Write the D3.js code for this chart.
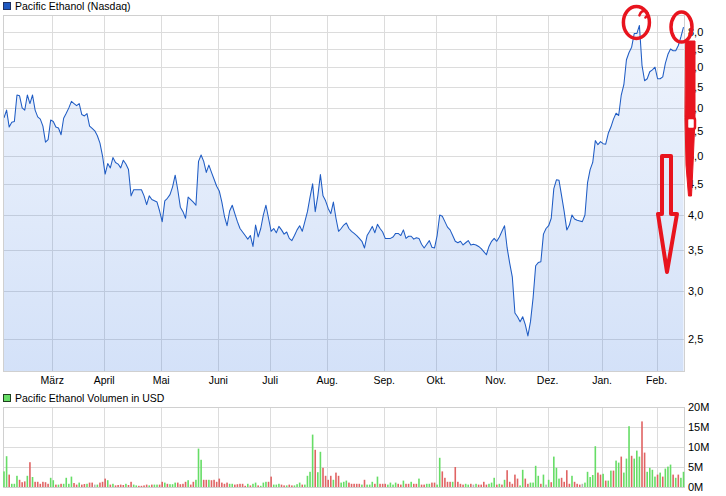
<!DOCTYPE html>
<html><head><meta charset="utf-8">
<script src="https://cdn.jsdelivr.net/npm/d3@7"></script>
<style>
body{margin:0;background:#fff}
svg{display:block}
text{font-family:"Liberation Sans",Arial,sans-serif;font-size:10.5px;fill:#000}
</style>
</head><body><svg id="c" width="726" height="496"></svg>
<script>
// ---- data ----
const months = ["März","April","Mai","Juni","Juli","Aug.","Sep.","Okt.","Nov.","Dez.","Jan.","Feb."];
const monthStart = [19,39,61,83,103,125,147,167,190,210,231,252]; // trading-day index of first day of month
const priceTicks = [2.5,3,3.5,4,4.5,5,5.5,6,6.5,7,7.5,8];
const volTicks = [0,5,10,15,20];
const close = [
5.78,5.95,5.58,5.68,5.7,6.3,6.28,6.0,5.95,6.3,
6.1,6.3,5.95,5.8,5.75,5.6,5.27,5.32,5.73,5.7,
5.58,5.56,5.42,5.77,5.88,6.0,6.15,6.1,6.05,6.1,
5.85,5.82,5.87,5.6,5.55,5.5,5.4,5.25,5.0,4.67,
4.86,4.78,4.97,4.88,4.85,4.78,4.92,4.85,4.75,4.3,
4.4,4.4,4.4,4.4,4.3,4.16,4.3,4.24,4.22,4.2,
4.06,3.9,4.22,4.26,4.32,4.45,4.65,4.4,4.12,4.05,
3.95,4.28,4.24,4.2,4.15,4.9,5.02,4.9,4.7,4.83,
4.7,4.58,4.46,4.38,4.2,3.98,3.84,4.06,4.15,4.02,
3.9,3.8,3.75,3.7,3.65,3.7,3.55,3.85,3.68,3.8,
4.0,4.15,3.95,3.76,3.8,3.74,3.83,3.78,3.72,3.75,
3.66,3.63,3.7,3.78,3.84,3.76,3.9,4.05,4.28,4.5,
4.05,4.3,4.66,4.3,4.22,4.1,4.02,4.2,3.95,3.76,
3.8,3.85,3.88,3.8,3.76,3.73,3.7,3.66,3.62,3.53,
3.7,3.76,3.83,3.74,3.86,3.8,3.75,3.66,3.66,3.66,
3.68,3.73,3.73,3.7,3.78,3.66,3.69,3.69,3.65,3.67,
3.66,3.58,3.53,3.58,3.63,3.54,3.53,3.7,4.0,3.98,
3.9,3.82,3.78,3.7,3.62,3.6,3.62,3.57,3.6,3.63,
3.57,3.58,3.57,3.55,3.52,3.48,3.44,3.55,3.62,3.66,
3.62,3.68,3.76,3.84,3.53,3.33,3.16,2.76,2.72,2.67,
2.72,2.64,2.53,2.67,2.92,3.3,3.34,3.35,3.72,3.8,
3.84,3.95,4.42,4.57,4.56,4.3,4.05,3.78,3.85,4.0,
3.94,3.92,3.91,3.9,4.0,4.52,4.75,4.88,5.3,5.22,
5.28,5.24,5.23,5.45,5.58,5.75,5.88,5.83,6.3,6.55,
7.2,7.4,7.55,7.95,7.95,8.2,7.05,6.65,6.7,6.88,
6.93,7.0,6.7,6.7,6.75,7.1,7.35,7.5,7.45,7.45,
7.6,7.85,8.15];
const volume = [ // millions USD
3.9,7.7,3.1,0.8,0.8,2.8,1.8,1.2,1.4,2.8,
6.2,2.5,1.3,1.3,0.8,1.3,1.2,0.8,2.3,1.7,
0.6,0.6,0.8,0.8,2.3,0.8,2.6,1.0,0.6,1.1,
0.6,0.75,0.8,1.1,1.1,0.6,0.6,1.1,1.3,2.1,
1.7,0.6,0.8,0.4,0.5,0.6,0.5,0.8,0.5,1.3,
0.6,0.4,0.3,0.3,0.4,0.6,0.4,0.6,0.6,0.6,
0.6,1.3,1.1,0.8,0.7,0.7,1.1,1.1,0.7,0.8,
1.3,1.7,0.6,1.3,1.8,9.6,6.8,1.8,1.8,1.8,
1.7,1.8,1.3,2.1,1.1,0.8,1.1,0.8,0.8,0.6,
0.7,0.8,0.8,0.3,0.8,0.4,0.8,1.1,0.4,0.3,
1.1,1.3,1.3,2.6,0.6,0.6,0.8,0.6,0.4,0.4,
0.6,0.4,0.4,0.7,1.1,0.6,0.6,2.8,3.8,13.1,
9.3,3.7,8.8,4.8,2.8,1.8,2.8,1.8,3.6,2.8,
1.1,1.3,1.6,1.1,0.8,0.8,0.8,0.8,0.6,
1.8,0.6,0.6,1.3,0.8,2.6,0.8,0.8,0.8,0.6,
1.1,0.6,1.1,0.8,0.6,1.6,0.8,0.8,1.3,0.8,
0.8,2.1,0.6,0.6,0.8,0.8,1.1,1.1,0.6,7.3,
3.9,2.3,1.3,1.3,1.3,5.0,1.3,0.8,0.6,0.8,
0.6,0.8,0.6,0.8,0.6,0.6,1.3,0.6,0.8,1.1,
2.3,0.6,0.8,0.6,1.8,4.2,1.3,0.8,3.1,2.1,
0.4,4.3,2.1,0.8,1.1,1.1,5.3,2.8,0.8,3.1,
0.6,1.8,1.2,7.6,4.8,2.1,2.3,1.3,4.2,0.8,
2.8,1.3,0.8,0.6,0.8,1.1,3.8,2.5,3.0,10.2,
3.6,3.1,3.3,1.6,1.6,4.1,4.1,6.6,6.1,7.6,
3.6,7.1,15.2,7.8,7.1,9.1,7.6,16.4,8.6,3.8,
4.8,4.3,2.6,3.1,3.6,2.6,4.6,5.1,5.6,3.1,
2.3,3.1,2.3,3.8];
// g = up day, r = down day, n = unchanged
const volDir = ("ggrgggrrrg"+"rgrrrrrrgg"+"rgrggggrrg"+"rrgrrngrrr"+"grgrrrrgrr"+"ggrrrrgrgg"+"rrgrgggrrr"+
 "rgrrgggrrg"+"rrrrrrrggr"+"rrrrgrggrg"+"ggrrgggrrg"+"rrgggrgggg"+"rggrrrrgrr"+"gggrrrrrg"+
 "rgggrgrrrg"+"gggrrgrrgr"+"rgrrggrrgg"+"rrrrgrrrrg"+"grngrrrrgg"+"grgrgrrrrr"+"ggrrggggrg"+
 "ngrgggrrrr"+"grrrnggggg"+"rrgrggrggr"+"gggrgggrrg"+"gggrgrgggr"+"grgg").split("");

// ---- layout ----
const svg = d3.select("#c");
const L=3, R=684, PT=15, PB=371, VT=407, VB=487;
const x = d3.scaleLinear().domain([0, close.length-1]).range([4, 683.5]);
const y = d3.scaleLog().domain([2.215, 8.53]).range([PB, PT]);
const yv = d3.scaleLinear().domain([0, 20]).range([VB, VT]);
const fmtP = v => v.toFixed(1).replace(".", ",");
const gridC = "#dcdcdc";

const defs = svg.append("defs");
const grad = defs.append("linearGradient").attr("id","ag").attr("gradientUnits","userSpaceOnUse")
  .attr("x1",0).attr("x2",0).attr("y1",PT).attr("y2",PB);
grad.append("stop").attr("offset","0").attr("stop-color","#3a78e0").attr("stop-opacity",0.08);
grad.append("stop").attr("offset","1").attr("stop-color","#3a78e0").attr("stop-opacity",0.22);

// gridlines price panel
const g = svg.append("g").attr("shape-rendering","crispEdges");
g.selectAll(".hp").data(priceTicks).join("line")
  .attr("x1",L).attr("x2",R).attr("y1",d=>Math.round(y(d))+0.5).attr("y2",d=>Math.round(y(d))+0.5)
  .attr("stroke",gridC);
g.selectAll(".vp").data(monthStart).join("line")
  .attr("x1",d=>Math.round(x(d)-1)+0.5).attr("x2",d=>Math.round(x(d)-1)+0.5).attr("y1",PT).attr("y2",PB)
  .attr("stroke",gridC);
// gridlines volume panel
g.selectAll(".hv").data(volTicks).join("line")
  .attr("x1",L).attr("x2",R).attr("y1",d=>Math.round(yv(d))+0.5).attr("y2",d=>Math.round(yv(d))+0.5)
  .attr("stroke",gridC);
g.selectAll(".vv").data(monthStart).join("line")
  .attr("x1",d=>Math.round(x(d)-1)+0.5).attr("x2",d=>Math.round(x(d)-1)+0.5).attr("y1",VT).attr("y2",VB)
  .attr("stroke",gridC);

// area + line
const area = d3.area().x((d,i)=>x(i)).y0(PB).y1(d=>y(d));
svg.append("path").datum(close).attr("d",area).attr("fill","url(#ag)");
const line = d3.line().x((d,i)=>x(i)).y(d=>y(d));
svg.append("path").datum(close).attr("d",line).attr("fill","none")
  .attr("stroke","#1f5cc4").attr("stroke-width",1.05).attr("stroke-linejoin","round");

// borders
const b = svg.append("g").attr("shape-rendering","crispEdges").attr("stroke","#d0d0d0").attr("fill","none");
b.append("rect").attr("x",L+0.5).attr("y",PT+0.5).attr("width",R-L).attr("height",PB-PT);
b.append("rect").attr("x",L+0.5).attr("y",VT+0.5).attr("width",R-L).attr("height",VB-VT);

// volume bars
const colors = {g:"#66dd66", r:"#e06464", n:"#b4b4b4"};
svg.append("g").selectAll("rect").data(volume).join("rect")
  .attr("x",(d,i)=>x(i)-0.8).attr("width",1.6)
  .attr("y",d=>yv(d)).attr("height",d=>VB-yv(d))
  .attr("fill",(d,i)=>colors[volDir[i]]);

// axis labels
svg.append("g").selectAll("text").data(priceTicks).join("text")
  .attr("x",688).attr("y",d=>y(d)+4).style("font-size","11px").text(fmtP);
svg.append("g").selectAll("text").data(volTicks).join("text")
  .attr("x",688).attr("y",d=>yv(d)+4).style("font-size","11px").text(d=>d+"M");
svg.append("g").selectAll("text").data(months).join("text")
  .attr("x",(d,i)=>x(monthStart[i])-1).attr("y",384).attr("text-anchor","middle").text(d=>d);

// legends
svg.append("rect").attr("x",3.5).attr("y",2.5).attr("width",7).attr("height",7)
  .attr("fill","#1e58c0").attr("stroke","#203060");
svg.append("text").attr("x",15).attr("y",10).text("Pacific Ethanol (Nasdaq)");
svg.append("rect").attr("x",3.5).attr("y",394.5).attr("width",7).attr("height",7)
  .attr("fill","#66dd66").attr("stroke","#204020");
svg.append("text").attr("x",15).attr("y",402).text("Pacific Ethanol Volumen in USD");

// red hand-drawn annotations
const red = "#e8141e";
const ann = svg.append("g").attr("fill","none").attr("stroke",red).attr("stroke-linecap","round").attr("stroke-linejoin","round");
const iMax = d3.maxIndex(close), iLast = close.length-1;
const cx1 = x(iMax)-3, cy1 = y(close[iMax])-3;
ann.append("ellipse").attr("cx",cx1).attr("cy",cy1).attr("rx",13).attr("ry",16).attr("stroke-width",3.5);
ann.append("path").attr("d",`M${cx1+3},${cy1-7} q2,-6 7,-4 q3,3 -1,6`).attr("stroke-width",2.5);
ann.append("ellipse").attr("cx",x(iLast)-2).attr("cy",y(close[iLast])).attr("rx",10.5).attr("ry",15).attr("stroke-width",3.5);
// solid tapered stroke
ann.append("path").attr("d","M686,41 L695,41 L695,118 L693,165 L691.5,196 L688.5,196 L686,165 L685,118 Z")
  .attr("fill",red).attr("stroke-width",1);
ann.append("rect").attr("x",687).attr("y",118).attr("width",8).attr("height",11).attr("rx",2)
  .attr("fill","#fff").attr("stroke-width",2.5);
// hollow arrow
ann.append("path").attr("d","M662,156 L671,156 L671,214 L677,214 L667,272 L658,214 L662,214 Z").attr("stroke-width",4);
</script>
</body></html>
